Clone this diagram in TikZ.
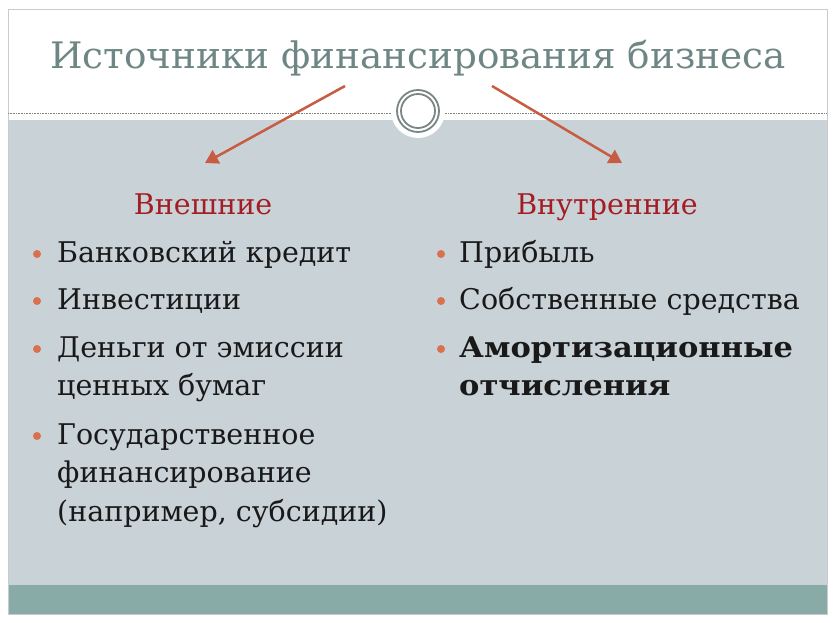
\documentclass[tikz,border=0pt]{standalone}
\usepackage{fontspec}
\setmainfont{DejaVu Serif}
\newfontfamily\titlefont{DejaVu Serif}[FakeStretch=1.022]
\newfontfamily\boldwide{DejaVu Serif}[FakeStretch=1.07]
\usetikzlibrary{arrows.meta}
\definecolor{bodygrey}{RGB}{201,210,215}
\definecolor{barteal}{RGB}{137,171,168}
\definecolor{framegrey}{RGB}{200,204,206}
\definecolor{ringgrey}{RGB}{122,133,133}
\definecolor{titlecol}{RGB}{110,135,132}
\definecolor{headred}{RGB}{163,30,36}
\definecolor{arrowcol}{RGB}{200,92,66}
\definecolor{bulletcol}{RGB}{217,113,78}
\definecolor{textcol}{RGB}{25,25,25}
\tikzset{
  itemtext/.style={anchor=base west, inner sep=0pt, text=textcol,
    font=\fontsize{28.5}{34}\selectfont},
  bolditem/.style={itemtext, font=\boldwide\bfseries\fontsize{28.5}{34}\selectfont},
  headtext/.style={anchor=base, inner sep=0pt, text=headred, font=\fontsize{28.5}{34}\selectfont},
  bulletdot/.style={fill=bulletcol, circle, inner sep=0pt, minimum size=8pt},
  connector/.style={arrowcol, line width=2.5pt, -{Triangle[length=13pt,width=15pt]}},
  ring/.style={ringgrey, line width=1.8pt}
}
\begin{document}
\begin{tikzpicture}[x=1pt,y=-1pt]
\useasboundingbox (0,0) rectangle (838,623);
\fill[white] (0,0) rectangle (838,623);
\fill[bodygrey] (8,120) rectangle (827,585);
\fill[barteal] (8,585) rectangle (827,614);
\draw[framegrey, line width=1pt] (8,10) rectangle (827,614);
\draw[ringgrey, densely dotted, line width=0.6pt] (8,113) -- (827,113);
\fill[white] (418,111) circle (27);
\draw[ring] (418,111) circle (21);
\draw[ring] (418,111) circle (17);
\node (title) [anchor=base, inner sep=0pt, text=titlecol, font=\titlefont\fontsize{36.5}{42}\selectfont] at (418,69) {Источники финансирования бизнеса};
\coordinate (s1) at (345,86);
\coordinate (e1) at (205,163);
\coordinate (s2) at (492,86);
\coordinate (e2) at (622,163);
\draw[connector] (s1) -- (e1);
\draw[connector] (s2) -- (e2);
\node (h1) [headtext] at (203,214) {Внешние};
\node (h2) [headtext] at (607,214) {Внутренние};
% left column
\node (b1) [bulletdot] at (37,254) {};
\node (l1) [itemtext] at (57,262) {Банковский кредит};
\node (b2) [bulletdot] at (37,301) {};
\node (l2) [itemtext] at (57,309) {Инвестиции};
\node (b3) [bulletdot] at (37,349) {};
\node (l3a) [itemtext] at (57,357) {Деньги от эмиссии};
\node (l3b) [itemtext] at (57,395) {ценных бумаг};
\node (b4) [bulletdot] at (37,436) {};
\node (l4a) [itemtext] at (57,444) {Государственное};
\node (l4b) [itemtext] at (57,482) {финансирование};
\node (l4c) [itemtext] at (57,521) {(например, субсидии)};
% right column
\node (r1b) [bulletdot] at (441,254) {};
\node (r1) [itemtext] at (459,262) {Прибыль};
\node (r2b) [bulletdot] at (441,301) {};
\node (r2) [itemtext] at (459,309) {Собственные средства};
\node (r3b) [bulletdot] at (441,349) {};
\node (r3a) [bolditem] at (459,357) {Амортизационные};
\node (r3b2) [bolditem] at (459,395) {отчисления};
\end{tikzpicture}
\end{document}
